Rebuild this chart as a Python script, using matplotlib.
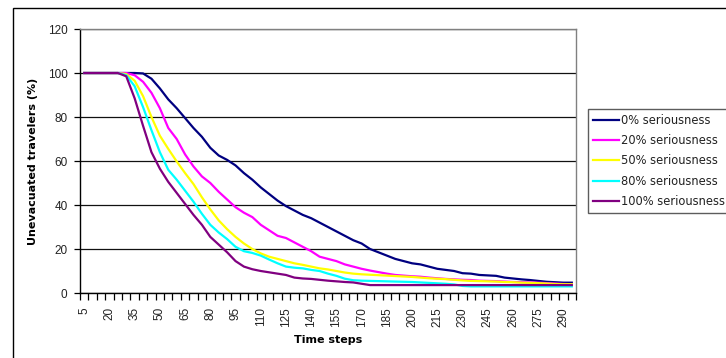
import matplotlib
matplotlib.use("Agg")
import matplotlib.pyplot as plt
from matplotlib.patches import Rectangle
import numpy as np

plt.rcParams['font.family'] = ['Liberation Sans', 'DejaVu Sans']

time_steps = list(range(5, 300, 5))  # 5 .. 295

s0 = [100, 100, 100, 100, 100, 100, 100, 99.8, 97.4, 93, 88, 84, 79.5, 75, 71, 66,
      62.5, 60.5, 58, 54.5, 51.5, 48, 45, 42, 39.5, 37.5, 35.5, 34, 32, 30, 28, 26,
      24, 22.5, 20, 18.5, 17, 15.5, 14.5, 13.5, 13, 12, 11, 10.5, 10, 9, 8.8, 8.2,
      8, 7.8, 7, 6.6, 6.2, 5.9, 5.5, 5.1, 4.9, 4.7, 4.7]
s20 = [100, 100, 100, 100, 100, 100, 99, 96, 91, 84, 75, 70, 63, 57.5, 53, 50,
       46, 42.5, 39, 36.5, 34.5, 31, 28.5, 26, 25, 23, 21, 19, 16.5, 15.5, 14.5, 13,
       12, 11, 10.2, 9.5, 8.8, 8.2, 7.9, 7.6, 7.4, 7.0, 6.7, 6.4, 6.2, 6.0, 5.9, 5.6,
       5.5, 5.4, 5.2, 5.0, 4.9, 4.8, 4.7, 4.5, 4.3, 4.1, 4.0]
s50 = [100, 100, 100, 100, 100, 99.5, 96.5, 89.5, 80, 71.5, 65.5, 59.8, 54.5, 49.5, 43.5, 38,
       33, 29, 25.5, 22.5, 20, 18, 16.5, 15.5, 14.5, 13.5, 12.8, 12, 11.2, 10.7, 10, 9.3,
       8.8, 8.5, 8.3, 8.1, 7.9, 7.7, 7.5, 7.3, 7.0, 6.7, 6.5, 6.3, 6.0, 5.7, 5.5, 5.4,
       5.3, 5.2, 5.0, 4.9, 4.7, 4.6, 4.5, 4.3, 4.1, 4.0, 4.0]
s80 = [100, 100, 100, 100, 100, 99, 94, 84.5, 74, 64, 56, 51.5, 46.5, 41.5, 36, 31,
       27.5, 24.5, 21, 19, 18.2, 17, 15.2, 13.5, 12, 11.5, 11.2, 10.5, 10, 8.8, 7.8, 6.5,
       5.8, 5.6, 5.5, 5.4, 5.3, 5.2, 5.1, 5.0, 4.8, 4.6, 4.4, 4.2, 3.9, 3.2, 3.0, 3.0,
       3.0, 3.0, 3.0, 3.0, 3.0, 3.0, 3.0, 3.0, 3.0, 3.0, 3.0]
s100 = [100, 100, 100, 100, 100, 98.5, 88.5, 76, 64, 56.5, 50.5, 45.5, 40.5, 35.5, 31, 25.5,
        22, 18.5, 14.5, 12, 10.8, 10, 9.4, 8.8, 8.2, 7.0, 6.6, 6.4, 6.0, 5.6, 5.3, 5.0,
        4.8, 4.2, 3.6, 3.6, 3.6, 3.6, 3.6, 3.6, 3.6, 3.6, 3.6, 3.6, 3.6, 3.6, 3.6, 3.6,
        3.6, 3.6, 3.6, 3.6, 3.6, 3.6, 3.6, 3.6, 3.6, 3.6, 3.6]

series_labels = ['0% seriousness', '20% seriousness', '50% seriousness',
                 '80% seriousness', '100% seriousness']
series_colors = ['#000080', '#FF00FF', '#FFFF00', '#00FFFF', '#800080']
y_ticks = [0, 20, 40, 60, 80, 100, 120]

W, H = 726, 358
fig = plt.figure(figsize=(W / 100, H / 100), dpi=100)
fig.patch.set_facecolor('white')

# outer chart frame
fig.patches.append(Rectangle((13 / W, -0.05), 1.1, 1 - 8 / H + 0.05,
                             transform=fig.transFigure, fill=False,
                             edgecolor='black', linewidth=1.0))

ax = fig.add_axes([80 / W, (H - 293) / H, 496 / W, 264 / H])
x = np.arange(len(time_steps))
for vals, lab, col in zip([s0, s20, s50, s80, s100], series_labels, series_colors):
    ax.plot(x, vals, color=col, lw=1.6, label=lab, zorder=3)

ax.set_xlim(-0.5, len(time_steps) - 0.5)
ax.set_ylim(0, 120)
ax.set_yticks(y_ticks)
ax.set_yticklabels([str(v) for v in y_ticks], fontsize=8.5, color='#222222')
ax.yaxis.grid(True, color='#111111', lw=0.9)
ax.set_axisbelow(True)

ax.set_xticks(x[::3])
ax.set_xticklabels([str(t) for t in time_steps[::3]], rotation=90, fontsize=8.5,
                   color='#222222')
ax.set_xticks(np.arange(-0.5, len(time_steps), 1.0), minor=True)
ax.tick_params(axis='x', which='major', length=0, pad=10)
ax.tick_params(axis='x', which='minor', length=5, width=0.9, direction='out',
               color='black')
ax.tick_params(axis='y', length=4, width=0.9, direction='out', color='black', pad=5)

for side in ['left', 'bottom']:
    ax.spines[side].set_color('black')
    ax.spines[side].set_linewidth(1.0)
for side in ['top', 'right']:
    ax.spines[side].set_color('#808080')
    ax.spines[side].set_linewidth(1.0)

ax.set_xlabel('Time steps', fontsize=8, fontweight='bold', labelpad=6,
              family=['DejaVu Sans'])
ax.set_ylabel('Unevacuated travelers (%)', fontsize=8, fontweight='bold', labelpad=7,
              family=['DejaVu Sans'])

leg = ax.legend(loc='upper left', bbox_to_anchor=(588 / W, 1 - 109 / H),
                bbox_transform=fig.transFigure, frameon=True, fancybox=False,
                edgecolor='#333333', handlelength=2.2,
                prop={'family': 'DejaVu Sans', 'size': 8.3},
                handletextpad=0.25, labelspacing=0.62, borderpad=0.45,
                borderaxespad=0)
leg.get_frame().set_linewidth(1.0)
for line in leg.get_lines():
    line.set_linewidth(1.6)
for t in leg.get_texts():
    t.set_color('#222222')

fig.savefig('out.png', dpi=100, facecolor='white')
